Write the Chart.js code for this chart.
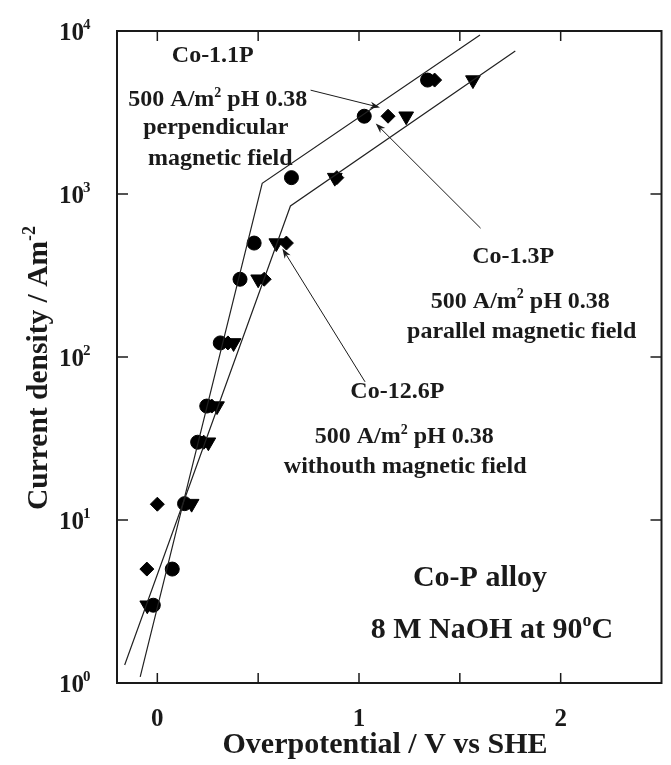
<!DOCTYPE html>
<html>
<head>
<meta charset="utf-8">
<script src="https://cdn.jsdelivr.net/npm/chart.js@4.4.1/dist/chart.umd.min.js"></script>
<style>
  html, body { margin: 0; padding: 0; background: #fff; }
</style>
</head>
<body>
<canvas id="chart" width="671" height="765"></canvas>
<script>
// 量測點：過電位 (V) 與電流密度 (A/m2)
const circleX = [-0.02, 0.074, 0.135, 0.20, 0.245, 0.312, 0.41, 0.48, 0.665, 1.026, 1.34];
const circleY = [3.0, 5.0, 12.6, 30, 50, 122, 300, 500, 1260, 3000, 5000];
const diamondX = [-0.052, 0.0, 0.23, 0.27, 0.35, 0.53, 0.64, 0.89, 1.144, 1.375];
const diamondY = [5.0, 12.5, 30, 50, 122, 300, 500, 1260, 3000, 5000];
const triangleX = [-0.05, 0.17, 0.253, 0.296, 0.378, 0.50, 0.59, 0.88, 1.234, 1.565];
const triangleY = [3.0, 12.6, 30, 50, 122, 300, 500, 1260, 3000, 5000];

// 兩條折線 (擬合線)
const fitAX = [-0.085, 0.52, 1.60];
const fitAY = [1.09, 1164, 9440];
const fitBX = [-0.162, 0.66, 1.775];
const fitBY = [1.29, 844, 7540];

// 座標軸刻度
const xTicks = [0, 0.5, 1, 1.5, 2];
const xLabels = ['0', '', '1', '', '2'];
const yTicks = [1, 10, 100, 1000, 10000];
const yExps = ['0', '1', '2', '3', '4'];

const toPts = (xs, ys) => xs.map((x, i) => ({ x: x, y: ys[i] }));

const FONT = 'Liberation Serif';
const INK = '#1a1a1a';

// 文字標註 (資料座標)
const notes = [
  { x: 0.275, y: 6480, size: 24, parts: [['Co-1.1P']] },
  { x: 0.30, y: 3460, size: 24, parts: [['500 A/m'], ['2', 1], [' pH 0.38']] },
  { x: 0.29, y: 2330, size: 24, parts: [['perpendicular']] },
  { x: 0.312, y: 1500, size: 24, parts: [['magnetic field']] },
  { x: 1.765, y: 376, size: 24, parts: [['Co-1.3P']] },
  { x: 1.80, y: 200, size: 24, parts: [['500 A/m'], ['2', 1], [' pH 0.38']] },
  { x: 1.807, y: 130.6, size: 24, parts: [['parallel magnetic field']] },
  { x: 1.19, y: 55.9, size: 24, parts: [['Co-12.6P']] },
  { x: 1.224, y: 29.6, size: 24, parts: [['500 A/m'], ['2', 1], [' pH 0.38']] },
  { x: 1.229, y: 19.4, size: 24, parts: [['withouth magnetic field']] },
  { x: 1.60, y: 3.93, size: 30, parts: [['Co-P alloy']] },
  { x: 1.659, y: 1.88, size: 30, parts: [['8 M NaOH at 90'], ['o', 1], ['C']] }
];

const arrows = [
  { from: [0.76, 4335], to: [1.104, 3396] },
  { from: [1.603, 617], to: [1.083, 2706] },
  { from: [1.03, 70.4], to: [0.62, 463] }
];

function drawRich(ctx, parts, x, y, size, align) {
  const sup = Math.round(size * 0.6);
  let w = 0;
  parts.forEach(p => {
    ctx.font = `bold ${p[1] ? sup : size}px "${FONT}"`;
    w += ctx.measureText(p[0]).width;
  });
  let cx = align === 'center' ? x - w / 2 : (align === 'right' ? x - w : x);
  ctx.textAlign = 'left';
  ctx.textBaseline = 'alphabetic';
  parts.forEach(p => {
    ctx.font = `bold ${p[1] ? sup : size}px "${FONT}"`;
    ctx.fillText(p[0], cx, p[1] ? y - size * 0.4 : y);
    cx += ctx.measureText(p[0]).width;
  });
}

function line(ctx, x1, y1, x2, y2) {
  ctx.beginPath();
  ctx.moveTo(x1, y1);
  ctx.lineTo(x2, y2);
  ctx.stroke();
}

const decor = {
  id: 'decor',
  afterDraw(chart) {
    const ctx = chart.ctx;
    const xs = chart.scales.x, ys = chart.scales.y;
    const { left, right, top, bottom } = chart.chartArea;
    ctx.save();
    ctx.strokeStyle = INK;
    ctx.fillStyle = INK;

    // 外框與內向刻度
    ctx.lineWidth = 2;
    ctx.strokeRect(left, top, right - left, bottom - top);
    ctx.lineWidth = 1.5;
    xTicks.forEach((v, i) => {
      const px = xs.getPixelForValue(v);
      line(ctx, px, bottom, px, bottom - 10);
      line(ctx, px, top, px, top + 10);
      if (xLabels[i]) drawRich(ctx, [[xLabels[i]]], px, bottom + 43, 25, 'center');
    });
    yTicks.forEach((v, i) => {
      const py = ys.getPixelForValue(v);
      line(ctx, left, py, left + 11, py);
      line(ctx, right, py, right - 11, py);
      ctx.font = `bold 25px "${FONT}"`;
      ctx.textAlign = 'right';
      ctx.textBaseline = 'alphabetic';
      ctx.fillText('10', 84, py + 9);
      ctx.font = `bold 15px "${FONT}"`;
      ctx.textAlign = 'left';
      ctx.fillText(yExps[i], 83, py - 2);
    });

    // 軸標題
    drawRich(ctx, [['Overpotential / V vs SHE']], 385, 753, 30, 'center');
    ctx.save();
    ctx.translate(47, 368);
    ctx.rotate(-Math.PI / 2);
    drawRich(ctx, [['Current density / Am'], ['-2', 1]], 0, 0, 29.5, 'center');
    ctx.restore();

    // 標註文字
    notes.forEach(n => {
      drawRich(ctx, n.parts, xs.getPixelForValue(n.x), ys.getPixelForValue(n.y), n.size, 'center');
    });

    // 箭頭
    ctx.lineWidth = 1;
    arrows.forEach(a => {
      const x1 = xs.getPixelForValue(a.from[0]), y1 = ys.getPixelForValue(a.from[1]);
      const x2 = xs.getPixelForValue(a.to[0]), y2 = ys.getPixelForValue(a.to[1]);
      const ang = Math.atan2(y2 - y1, x2 - x1);
      line(ctx, x1, y1, x2 - 6 * Math.cos(ang), y2 - 6 * Math.sin(ang));
      ctx.beginPath();
      ctx.moveTo(x2, y2);
      ctx.lineTo(x2 - 10 * Math.cos(ang) + 3.5 * Math.sin(ang), y2 - 10 * Math.sin(ang) - 3.5 * Math.cos(ang));
      ctx.lineTo(x2 - 7 * Math.cos(ang), y2 - 7 * Math.sin(ang));
      ctx.lineTo(x2 - 10 * Math.cos(ang) - 3.5 * Math.sin(ang), y2 - 10 * Math.sin(ang) + 3.5 * Math.cos(ang));
      ctx.closePath();
      ctx.fill();
    });
    ctx.restore();
  }
};

Chart.defaults.font.family = FONT;

new Chart(document.getElementById('chart'), {
  type: 'scatter',
  data: {
    datasets: [
      { data: toPts(fitAX, fitAY), showLine: true, pointRadius: 0, borderColor: '#222', borderWidth: 1.2, tension: 0 },
      { data: toPts(fitBX, fitBY), showLine: true, pointRadius: 0, borderColor: '#222', borderWidth: 1.2, tension: 0 },
      { data: toPts(triangleX, triangleY), pointStyle: 'triangle', rotation: 180, pointRadius: 8.5, backgroundColor: '#000', borderColor: '#000', borderWidth: 1 },
      { data: toPts(diamondX, diamondY), pointStyle: 'rectRot', pointRadius: 7, backgroundColor: '#000', borderColor: '#000', borderWidth: 1 },
      { data: toPts(circleX, circleY), pointStyle: 'circle', pointRadius: 7, backgroundColor: '#000', borderColor: '#000', borderWidth: 1 }
    ]
  },
  options: {
    responsive: false,
    animation: false,
    devicePixelRatio: 1,
    layout: { padding: { top: 31, right: 6, left: 0, bottom: 0 } },
    plugins: { legend: { display: false }, tooltip: { enabled: false } },
    scales: {
      x: {
        type: 'linear', min: -0.2, max: 2.5,
        grid: { display: false }, border: { display: false },
        ticks: { display: false },
        afterFit: s => { s.height = 82; }
      },
      y: {
        type: 'logarithmic', min: 1, max: 10000,
        grid: { display: false }, border: { display: false },
        ticks: { display: false },
        afterFit: s => { s.width = 117; }
      }
    }
  },
  plugins: [decor]
});
</script>
</body>
</html>
